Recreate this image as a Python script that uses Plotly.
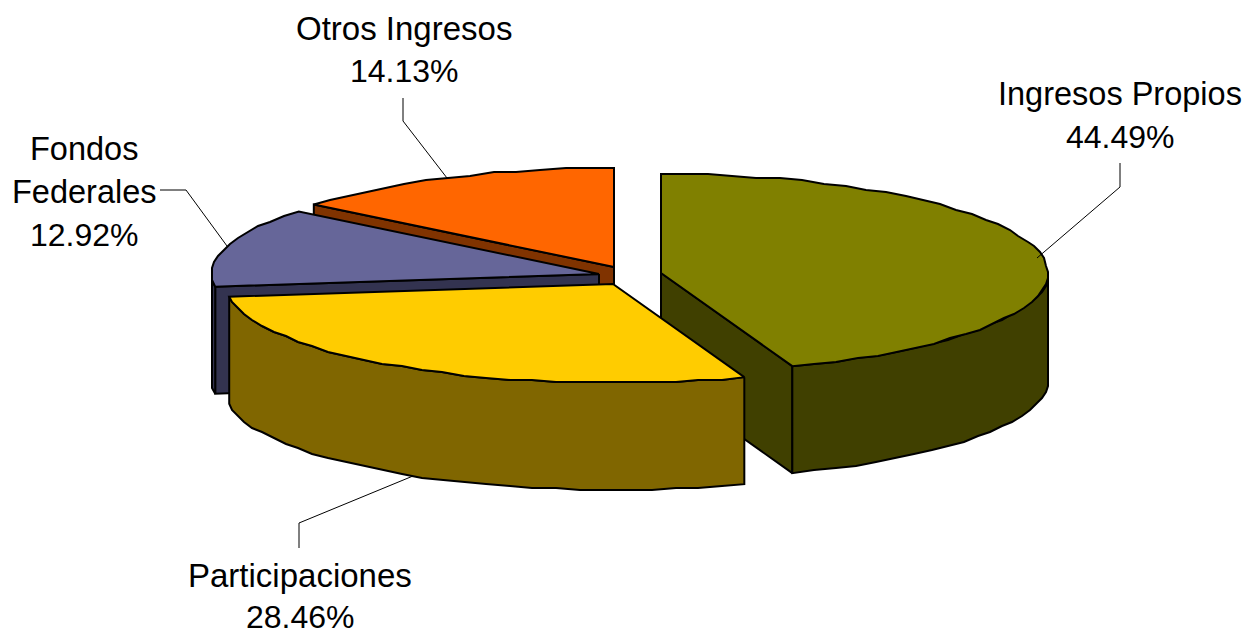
import math
import plotly.graph_objects as go

categories = ["Ingresos Propios", "Participaciones", "Fondos Federales", "Otros Ingresos"]
shares = [44.49, 28.46, 12.92, 14.13]
share_labels = ["44.49%", "28.46%", "12.92%", "14.13%"]

# styling / layout (pixel space of the 1246x630 picture)
top_colors = ["#808000", "#FFCC00", "#666699", "#FF6600"]
side_colors = ["#404000", "#806600", "#333350", "#803300"]
centres = [(661, 273), (613, 284), (599, 274), (614, 267)]
RX, RY, DEPTH = 387, 99, 107
STEP_DEG = 3.5   # the reference's rims are coarse facets snapped to a pixel grid
SNAP = 2

def rim(c, deg, drop=0):
    a = math.radians(deg)
    return (c[0] + RX * math.sin(a), c[1] - RY * math.cos(a) + drop)

def arc(c, a, b, drop=0):
    n = max(2, int(abs(b - a) / STEP_DEG) + 1)
    pts = []
    for i in range(n):
        x, y = rim(c, a + (b - a) * i / (n - 1), drop)
        if 0 < i < n - 1:
            x, y = round(x / SNAP) * SNAP, round(y / SNAP) * SNAP
        pts.append((x, y))
    return pts

def poly(fig, pts, fill, lw=2):
    xs = [p[0] for p in pts] + [pts[0][0]]
    ys = [p[1] for p in pts] + [pts[0][1]]
    fig.add_trace(go.Scatter(x=xs, y=ys, mode="lines", fill="toself", fillcolor=fill,
                             line=dict(color="#000000", width=lw), hoverinfo="skip",
                             showlegend=False))

fig = go.Figure()

# cumulative clockwise angles from 12 o'clock
starts, ends, acc = [], [], 0.0
for v in shares:
    starts.append(acc * 360 / sum(shares))
    acc += v
    ends.append(acc * 360 / sum(shares))

# back to front: the yellow slice sits in front of the olive one
for i in [3, 2, 0, 1]:
    c, a, b = centres[i], starts[i], ends[i]
    # cut faces that look towards the viewer
    for edge, normal in ((a, a - 90), (b, b + 90)):
        if math.cos(math.radians(normal)) < -1e-6:
            p = rim(c, edge)
            poly(fig, [c, p, (p[0], p[1] + DEPTH), (c[0], c[1] + DEPTH)], side_colors[i])
    # outer wall: only the front half of the ellipse
    f0, f1 = max(a, 90), min(b, 270)
    if f1 > f0:
        poly(fig, arc(c, f0, f1) + arc(c, f1, f0, DEPTH), side_colors[i])
    # top
    poly(fig, [c] + arc(c, a, b), top_colors[i])

leaders = {
    0: "M1120,163 L1120,187 L1037,258",
    1: "M299,548 L299,523 L413,476",
    2: "M160,190 L186,190 L227,246",
    3: "M403,98 L403,121 L447,178",
}
shapes = [dict(type="path", path=p, line=dict(color="#000000", width=1), xref="x", yref="y")
          for p in leaders.values()]

text_lines = {
    0: [(1120, 94, categories[0], 32.5), (1120, 137, share_labels[0], 32)],
    1: [(299.5, 575, categories[1], 33), (300, 617, share_labels[1], 32)],
    2: [(84, 149, "Fondos", 32.5), (84.5, 192, "Federales", 32.5), (84, 235, share_labels[2], 32)],
    3: [(404, 28, categories[3], 33), (404, 71, share_labels[3], 32)],
}
annotations = []
for lines in text_lines.values():
    for x, y, t, s in lines:
        annotations.append(dict(x=x, y=y, text=t, xref="x", yref="y", showarrow=False,
                                xanchor="center", yanchor="middle",
                                font=dict(family="Liberation Sans, Arial, sans-serif",
                                          size=s, color="#000000")))

fig.update_layout(
    width=1246, height=630, margin=dict(l=0, r=0, t=0, b=0),
    paper_bgcolor="#FFFFFF", plot_bgcolor="#FFFFFF", showlegend=False,
    shapes=shapes, annotations=annotations,
    xaxis=dict(range=[0, 1246], visible=False, fixedrange=True),
    yaxis=dict(range=[630, 0], visible=False, fixedrange=True),
)

fig.write_html("out.html", config={"displayModeBar": False},
               post_script="document.body.style.margin='0';")
